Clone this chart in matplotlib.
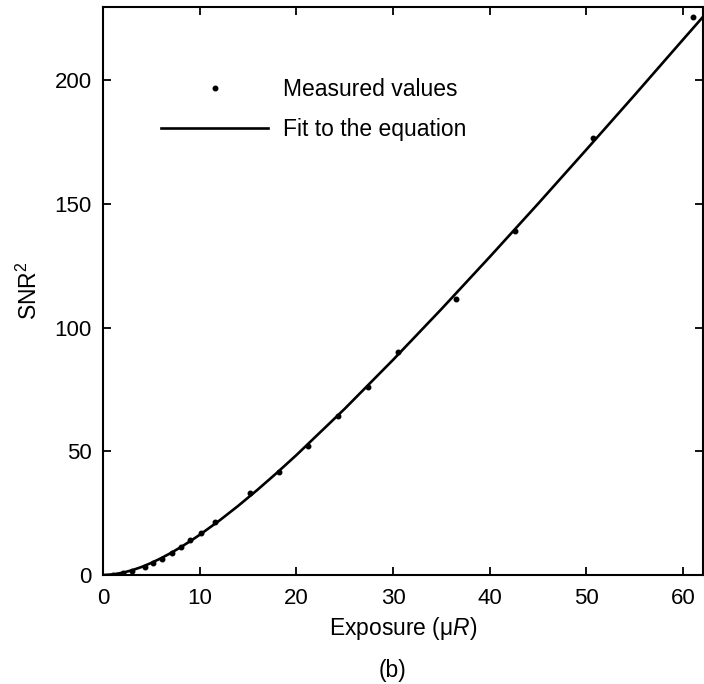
import numpy as np
import matplotlib.pyplot as plt

plt.rcParams['font.family'] = ['Liberation Sans', 'DejaVu Sans']
plt.rcParams['mathtext.fontset'] = 'custom'
plt.rcParams['mathtext.rm'] = 'Liberation Sans'
plt.rcParams['mathtext.it'] = 'Liberation Sans:italic'

# measured points (exposure in uR, SNR^2)
exposure = [1.0, 2.1, 3.0, 4.3, 5.2, 6.1, 7.1, 8.1, 9.0, 10.1, 11.6,
            15.2, 18.2, 21.2, 24.3, 27.4, 30.5, 36.5, 42.6, 50.7, 61.0]
snr2 = [0.2, 0.9, 1.5, 3.4, 4.7, 6.3, 8.8, 11.2, 14.1, 16.8, 21.3,
        33.0, 41.5, 52.1, 64.3, 76.1, 90.0, 111.6, 139.0, 176.5, 225.5]

# fitted curve
fit_x = [0, 1, 2, 3, 4, 5, 6, 7, 8, 9, 10, 12, 14, 16, 18, 20, 25,
         30, 35, 40, 45, 50, 55, 60, 62]
fit_y = [0, 0.23, 0.89, 1.92, 3.26, 4.89, 6.77, 8.86, 11.15, 13.62, 16.24,
         21.89, 28.01, 34.52, 41.36, 48.47, 67.2, 86.98, 107.5, 128.6,
         150.1, 172.0, 194.1, 216.5, 225.4]

fig = plt.figure(figsize=(7.04, 6.84), dpi=100)
ax = fig.add_axes([103 / 704, 109 / 684, 600 / 704, 568 / 684])

ax.plot(exposure, snr2, 'k.', markersize=6.5, label='Measured values')
ax.plot(fit_x, fit_y, 'k-', linewidth=1.9, label='Fit to the equation')

ax.set_xlim(0, 62.05)
ax.set_ylim(0, 229.6)
ax.set_xticks(np.arange(0, 61, 10))
ax.set_yticks(np.arange(0, 201, 50))
ax.tick_params(direction='in', top=True, right=True, length=6, width=1.3,
               labelsize=16)
ax.tick_params(axis='x', pad=9)
ax.tick_params(axis='y', pad=8)
for s in ax.spines.values():
    s.set_linewidth(1.5)

ax.set_xlabel('Exposure (μ$\\mathit{R}$)', fontsize=16.5, labelpad=5)
ax.set_ylabel('SNR$^2$', fontsize=16.5, labelpad=9)

ax.legend(loc='center left', bbox_to_anchor=(161 / 704, 1 - 109.5 / 684),
          bbox_transform=fig.transFigure, frameon=False, fontsize=16.5,
          handlelength=4.67, handletextpad=0.65, labelspacing=0.75,
          borderpad=0, borderaxespad=0, numpoints=1)

fig.text(393 / 704, 1 - 670 / 684, '(b)', fontsize=16.5, ha='center', va='center')

fig.savefig('out.png', dpi=100)
